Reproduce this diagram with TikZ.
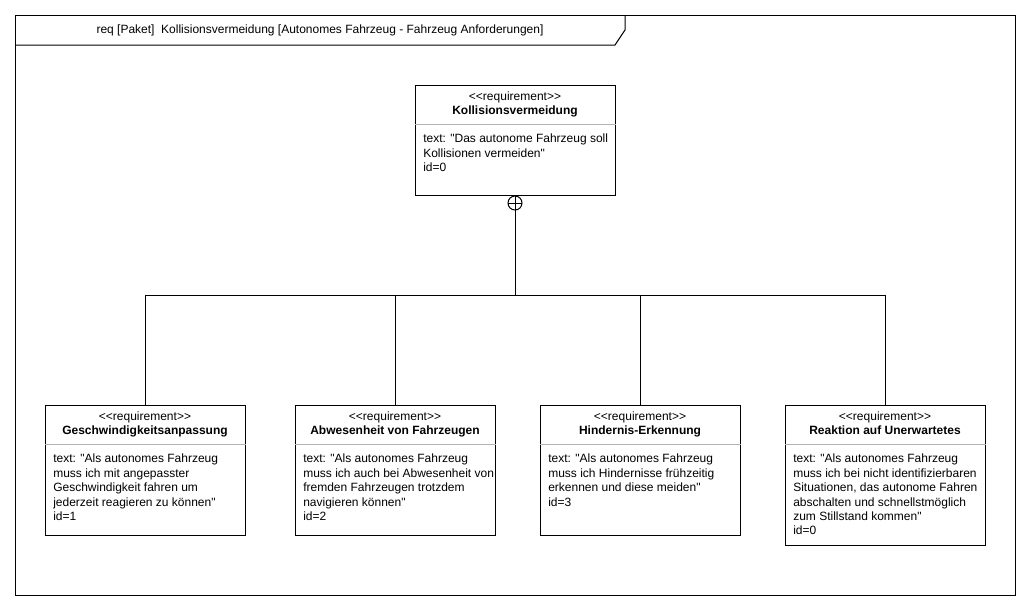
\documentclass[tikz,border=0pt]{standalone}
\usepackage{fontspec}
\setmainfont{Liberation Sans}[Ligatures=TeXOff]
\begin{document}
\begin{tikzpicture}[x=0.75pt,y=-0.75pt,
  every node/.style={inner sep=0pt},
  req/.style={draw, line width=0.75pt, anchor=north west, minimum width=150pt},
  stereo/.style={anchor=base, font=\fontsize{9}{10.8}\selectfont},
  rname/.style={anchor=base, font=\fontsize{9}{10.8}\selectfont\bfseries},
  body/.style={anchor=north west, align=left, font=\fontsize{9}{10.8}\selectfont},
  sepline/.style={draw=black!30, line width=0.75pt},
  conn/.style={line width=0.75pt},
  frame/.style={line width=0.75pt}]
\useasboundingbox (0,0) rectangle (1031,611);
% frame
\draw[frame] (15,15) rectangle (1015,595);
\draw[frame] (15,45) -- (615,45) -- (625,30) -- (625,15);
\node[font=\fontsize{9}{10.8}\selectfont] (title) at (320,30) {req [Paket]\ \ Kollisionsvermeidung [Autonomes Fahrzeug - Fahrzeug Anforderungen]};

% top requirement
\node[req, minimum height=82.5pt] (k0) at (415,85) {};
\node[stereo] (k0s) at (515,100) {<\kern0pt<requirement>\kern0pt>};
\node[rname] (k0n) at (515,114) {Kollisionsvermeidung};
\draw[sepline] (k0.west |- 0,124) -- (k0.east |- 0,124);
\node[body] (k0b) at (423,134) {text: "Das autonome Fahrzeug soll\\Kollisionen vermeiden"\\id=0};

% bottom requirements
\node[req, minimum height=97.5pt] (k1) at (45,405) {};
\node[stereo] (k1s) at (145,420) {<\kern0pt<requirement>\kern0pt>};
\node[rname] (k1n) at (145,434) {Geschwindigkeitsanpassung};
\draw[sepline] (k1.west |- 0,444) -- (k1.east |- 0,444);
\node[body] (k1b) at (53,454) {text: "Als autonomes Fahrzeug\\muss ich mit angepasster\\Geschwindigkeit fahren um\\jederzeit reagieren zu können"\\id=1};

\node[req, minimum height=97.5pt] (k2) at (295,405) {};
\node[stereo] (k2s) at (395,420) {<\kern0pt<requirement>\kern0pt>};
\node[rname] (k2n) at (395,434) {Abwesenheit von Fahrzeugen};
\draw[sepline] (k2.west |- 0,444) -- (k2.east |- 0,444);
\node[body] (k2b) at (303,454) {text: "Als autonomes Fahrzeug\\muss ich auch bei Abwesenheit von\\fremden Fahrzeugen trotzdem\\navigieren können"\\id=2};

\node[req, minimum height=97.5pt] (k3) at (540,405) {};
\node[stereo] (k3s) at (640,420) {<\kern0pt<requirement>\kern0pt>};
\node[rname] (k3n) at (640,434) {Hindernis-Erkennung};
\draw[sepline] (k3.west |- 0,444) -- (k3.east |- 0,444);
\node[body] (k3b) at (548,454) {text: "Als autonomes Fahrzeug\\muss ich Hindernisse frühzeitig\\erkennen und diese meiden"\\id=3};

\node[req, minimum height=105pt] (k4) at (785,405) {};
\node[stereo] (k4s) at (885,420) {<\kern0pt<requirement>\kern0pt>};
\node[rname] (k4n) at (885,434) {Reaktion auf Unerwartetes};
\draw[sepline] (k4.west |- 0,444) -- (k4.east |- 0,444);
\node[body] (k4b) at (793,454) {text: "Als autonomes Fahrzeug\\muss ich bei nicht identifizierbaren\\Situationen, das autonome Fahren\\abschalten und schnellstmöglich\\zum Stillstand kommen"\\id=0};

% containment
\coordinate (c0) at (515,203);
\coordinate (j) at (515,295);
\draw[conn] (c0) circle [radius=5.25pt];
\draw[conn] (508,203) -- (522,203);
\draw[conn] (515,196) -- (515,210);
\draw[conn] (515,210) -- (j);
\draw[conn] (j) -| (k1.north);
\draw[conn] (j) -| (k2.north);
\draw[conn] (j) -| (k3.north);
\draw[conn] (j) -| (k4.north);
\end{tikzpicture}
\end{document}
